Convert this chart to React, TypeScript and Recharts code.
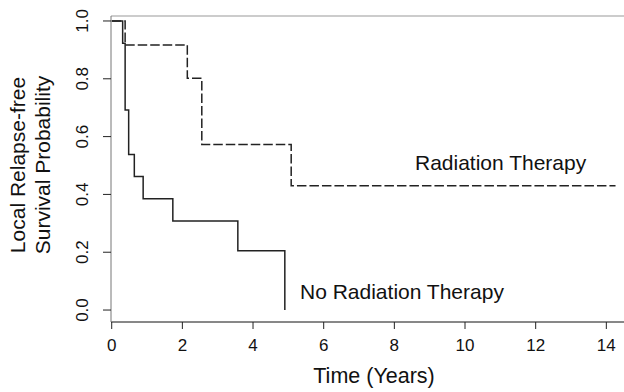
import React from "react";
import { LineChart, Line, XAxis, YAxis, Label } from "recharts";

// Kaplan-Meier steps (time in years, survival probability)
const radiationTimes = [0, 0.38, 2.14, 2.55, 5.08, 14.26];
const radiationSurvival = [1.0, 0.917, 0.802, 0.573, 0.43, 0.43];

const noRadiationTimes = [0, 0.31, 0.38, 0.48, 0.64, 0.89, 1.73, 3.57, 4.9];
const noRadiationSurvival = [1.0, 0.923, 0.692, 0.538, 0.462, 0.385, 0.308, 0.205, 0.0];

const xTicks = [0, 2, 4, 6, 8, 10, 12, 14];
const yTicks = [0, 0.2, 0.4, 0.6, 0.8, 1.0];

const radiationData = radiationTimes.map((t, i) => ({ t, s: radiationSurvival[i] }));
const noRadiationData = noRadiationTimes.map((t, i) => ({ t, s: noRadiationSurvival[i] }));

const FONT = "'Liberation Sans', Arial, sans-serif";
const INK = "#222";
const X_DOMAIN = [-0.02, 14.5];
const Y_DOMAIN = [-0.0414, 1.0172];

const XTick = (props: any) => {
  const { x, y, payload } = props;
  return (
    <g>
      <line x1={x} x2={x} y1={y} y2={y + 7} stroke={INK} strokeWidth={1} />
      <text x={x} y={y + 29} textAnchor="middle" fontSize={17} fontFamily={FONT} fill="#111">
        {payload.value}
      </text>
    </g>
  );
};

const YTick = (props: any) => {
  const { x, y, payload } = props;
  return (
    <g>
      <line x1={x - 8} x2={x} y1={y} y2={y} stroke={INK} strokeWidth={1} />
      <text
        x={x - 28}
        y={y}
        transform={`rotate(-90 ${x - 28} ${y})`}
        textAnchor="middle"
        dominantBaseline="central"
        fontSize={17}
        fontFamily={FONT}
        fill="#111"
      >
        {Number(payload.value).toFixed(1)}
      </text>
    </g>
  );
};

const YTitle = () => (
  <g fontFamily={FONT} fontSize={21} fill="#111">
    <text x={17} y={165} transform="rotate(-90 17 165)" textAnchor="middle" dominantBaseline="central">
      Local Relapse-free
    </text>
    <text x={42} y={165} transform="rotate(-90 42 165)" textAnchor="middle" dominantBaseline="central">
      Survival Probability
    </text>
  </g>
);

const XTitle = () => (
  <text x={374} y={376} textAnchor="middle" dominantBaseline="central" fontFamily={FONT} fontSize={21.5} fill="#111">
    Time (Years)
  </text>
);

export default function App() {
  return (
    <div style={{ position: "absolute", left: 0, top: 0, background: "#fff" }}>
      <LineChart width={624} height={392} margin={{ top: 15, right: 0, bottom: 0, left: 0 }}>
        <XAxis
          dataKey="t"
          type="number"
          domain={X_DOMAIN}
          ticks={xTicks}
          tick={<XTick />}
          tickLine={false}
          tickSize={0}
          tickMargin={0}
          height={70}
          stroke="#111"
          allowDataOverflow
        >
          <Label content={<XTitle />} />
        </XAxis>
        <XAxis
          xAxisId="top"
          orientation="top"
          dataKey="t"
          type="number"
          domain={X_DOMAIN}
          tick={false}
          tickLine={false}
          height={1}
          stroke="#999"
          allowDataOverflow
        />
        <YAxis
          type="number"
          domain={Y_DOMAIN}
          ticks={yTicks}
          tick={<YTick />}
          tickLine={false}
          tickSize={0}
          tickMargin={0}
          width={111}
          stroke="#777"
          allowDataOverflow
        >
          <Label content={<YTitle />} />
        </YAxis>
        <Line
          data={radiationData}
          dataKey="s"
          type="stepAfter"
          stroke={INK}
          strokeWidth={1.5}
          strokeDasharray="9.5 3"
          dot={false}
          isAnimationActive={false}
        />
        <Line
          data={noRadiationData}
          dataKey="s"
          type="stepAfter"
          stroke={INK}
          strokeWidth={1.5}
          dot={false}
          isAnimationActive={false}
        />
      </LineChart>
      <svg width={624} height={392} style={{ position: "absolute", left: 0, top: 0, pointerEvents: "none" }}>
        <g fontFamily={FONT} fontSize={21} fill="#111">
          <text x={415} y={162} dominantBaseline="central">Radiation Therapy</text>
          <text x={300} y={291} dominantBaseline="central">No Radiation Therapy</text>
        </g>
      </svg>
    </div>
  );
}
